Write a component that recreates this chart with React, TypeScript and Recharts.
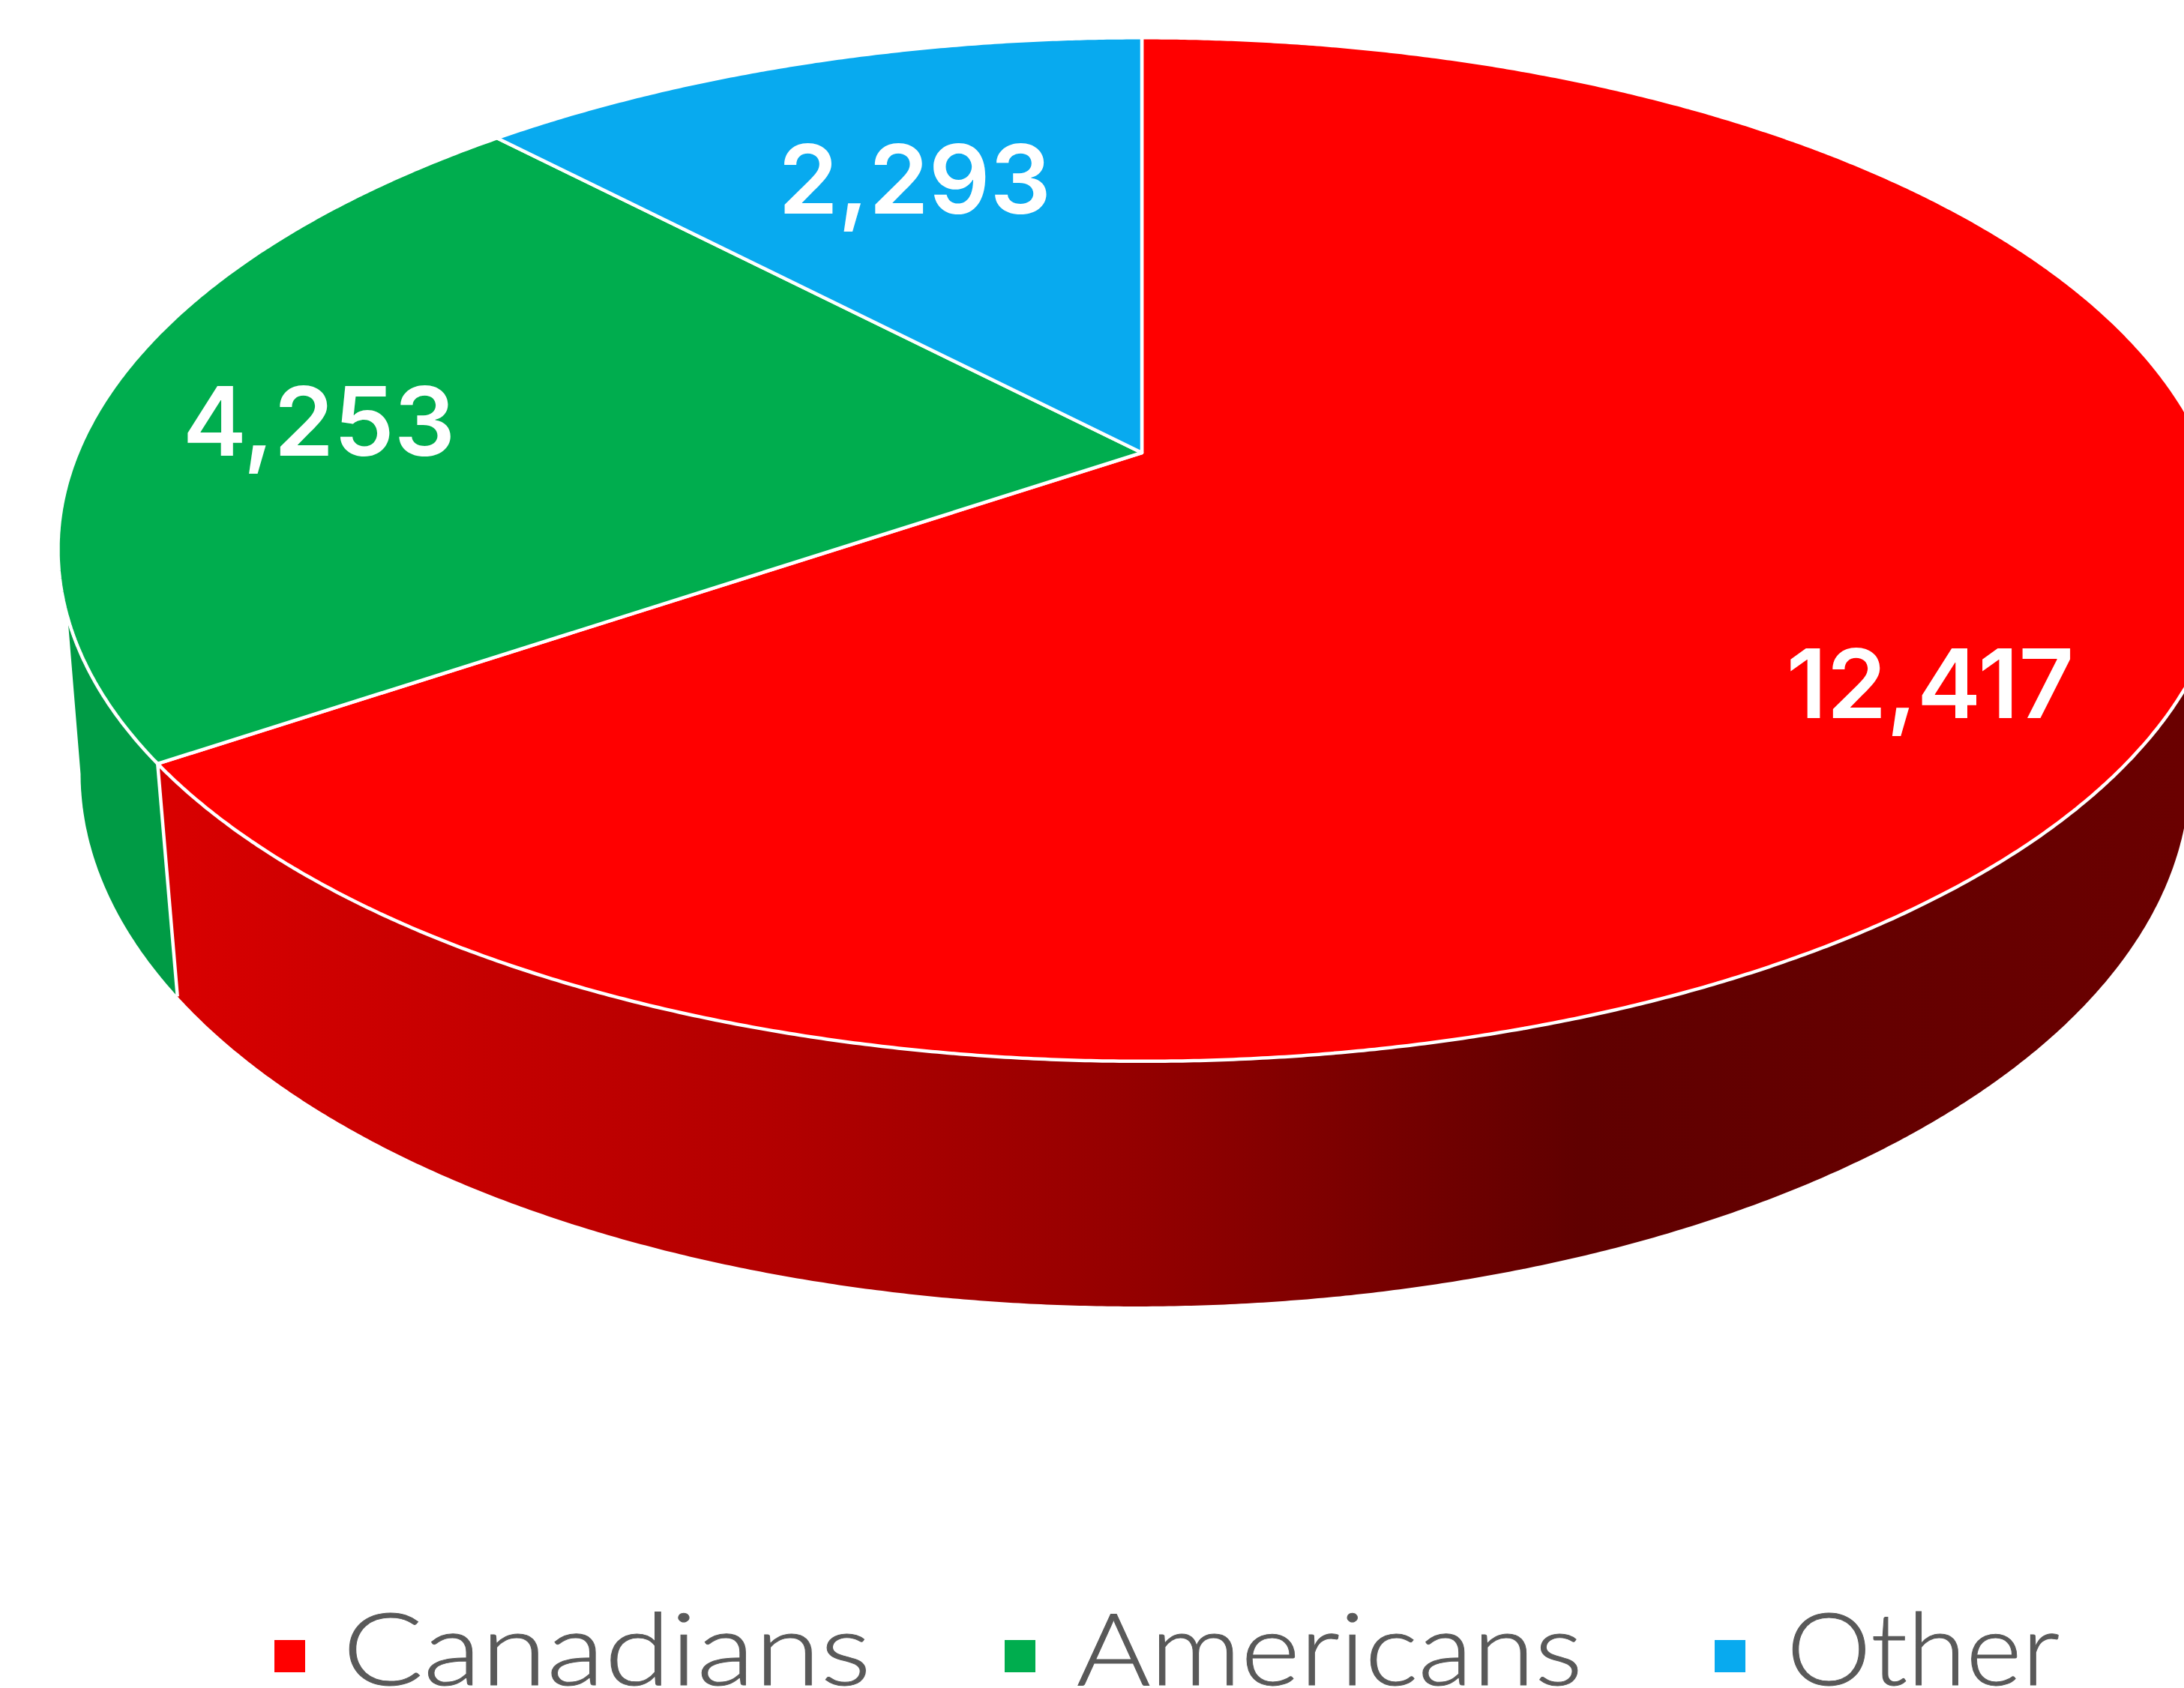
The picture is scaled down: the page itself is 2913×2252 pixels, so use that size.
// 3D風の円グラフ(Recharts の Pie を custom shape で透視投影して描く)
import { Legend, Pie, PieChart } from "recharts";

const CATEGORIES = ["Canadians", "Americans", "Other"];
const VALUES = [12417, 4253, 2293];
const COLORS = ["#ff0000", "#00ad4e", "#08aaef"];
const WALL_COLORS = ["url(#redWall)", "#009b45", "#0890c8"];

const W = 2913;
const H = 2252;
// 円盤の透視パラメータ(reference から実測)
const APEX_X = 1523;
const APEX_Y = 604;
const RX = 1419.5;
const RY = 658.4;
const K = 0.189;
// 底面の輪郭は上面をこの比率でずらしたもの
const WALL_SCALE_X = 0.973;
const WALL_SHIFT_X = -9;
const WALL_SCALE_Y = 1.042;
const WALL_DROP = 293;
// 手前に見える側面の範囲(時計回り、上が0度)
const WALL_FROM = 100;
const WALL_TO = 251.7;
const WALL_TO_BOTTOM = 259;

const LABEL_RADIUS = [0.78, 0.79, 0.64];
const LABEL_NUDGE = [50, 12, -14];
const LEGEND_SWATCH_X = [366, 1340, 2287];
const LEGEND_TEXT_X = [457, 1436, 2383];
const LEGEND_TEXT_W = [705, 675, 364];

const data = CATEGORIES.map((name, i) => ({
  name,
  value: VALUES[i],
  fill: COLORS[i],
}));

// 時計回りの角度(上が0)と半径比から画面座標へ
function project(deg: number, r = 1) {
  const a = (deg * Math.PI) / 180;
  const u = Math.sin(a) * r;
  const v = -Math.cos(a) * r;
  const d = 1 - K * v;
  return { x: (RX * u) / d, y: (RY * v) / d };
}

function topPoint(deg: number) {
  const p = project(deg);
  return [APEX_X + p.x, APEX_Y + p.y];
}

function bottomPoint(deg: number) {
  const p = project(deg);
  return [
    APEX_X + p.x * WALL_SCALE_X + WALL_SHIFT_X,
    APEX_Y + p.y * WALL_SCALE_Y + WALL_DROP,
  ];
}

function arcPoints(from: number, to: number, fn: (d: number) => number[]) {
  const pts: number[][] = [];
  const n = Math.max(2, Math.ceil((to - from) * 4));
  for (let i = 0; i <= n; i++) pts.push(fn(from + ((to - from) * i) / n));
  return pts;
}

const toPath = (pts: number[][]) =>
  pts.map((p, i) => `${i === 0 ? "M" : "L"}${p[0].toFixed(1)} ${p[1].toFixed(1)}`).join(" ");

function SliceShape(props: any) {
  const from = 90 - props.startAngle;
  const to = 90 - props.endAngle;
  const idx = CATEGORIES.indexOf(props.name ?? props.payload?.name);
  const wallFrom = Math.max(from, WALL_FROM);
  const wallTo = Math.min(to, WALL_TO);
  const wallToBottom = Math.min(to, WALL_TO_BOTTOM);
  const hasWall = wallTo > wallFrom;
  const wall = hasWall
    ? toPath([
        ...arcPoints(wallFrom, wallTo, topPoint),
        ...arcPoints(wallFrom, wallToBottom, bottomPoint).reverse(),
      ]) + " Z"
    : "";
  const face = `M${APEX_X} ${APEX_Y} ` + toPath(arcPoints(from, to, topPoint)).replace("M", "L") + " Z";
  const showEdge = from > WALL_FROM && from < WALL_TO;
  const edgeTop = topPoint(from);
  const edgeBottom = bottomPoint(from);
  return (
    <g>
      {hasWall && <path d={wall} fill={WALL_COLORS[idx]} stroke="none" />}
      {showEdge && (
        <line
          x1={edgeTop[0]}
          y1={edgeTop[1]}
          x2={edgeBottom[0]}
          y2={edgeBottom[1]}
          stroke="#fff"
          strokeWidth={4.5}
        />
      )}
      <path d={face} fill={props.fill} stroke="#fff" strokeWidth={4.5} strokeLinejoin="round" />
    </g>
  );
}

function SliceLabel(props: any) {
  const i = props.index;
  const p = project(90 - props.midAngle, LABEL_RADIUS[i]);
  return (
    <text
      x={APEX_X + p.x}
      y={APEX_Y + p.y + LABEL_NUDGE[i]}
      fill="#fff"
      fontFamily="Inter, sans-serif"
      fontWeight={600}
      fontSize={128}
      textAnchor="middle"
      dominantBaseline="central"
    >
      {Number(props.value).toLocaleString("en-US")}
    </text>
  );
}

function LegendContent({ payload }: any) {
  return (
    <svg width={W} height={152} style={{ display: "block" }}>
      {(payload ?? []).map((entry: any, i: number) => (
        <g key={entry.value}>
          <rect x={LEGEND_SWATCH_X[i]} y={88} width={41} height={43} fill={entry.color} />
          <text
            x={LEGEND_TEXT_X[i]}
            y={148}
            fill="#595959"
            stroke="#595959"
            strokeWidth={1}
            fontFamily="Lato, sans-serif"
            fontWeight={300}
            fontSize={134}
            textLength={LEGEND_TEXT_W[i]}
            lengthAdjust="spacingAndGlyphs"
          >
            {entry.value}
          </text>
        </g>
      ))}
    </svg>
  );
}

export default function App() {
  return (
    <div style={{ position: "absolute", left: 0, top: 0, width: W, height: H, overflow: "hidden", background: "#fff" }}>
      <PieChart width={W} height={H} margin={{ top: 0, right: 0, bottom: 0, left: 0 }}>
        <defs>
          <linearGradient id="redWall" gradientUnits="userSpaceOnUse" x1={230} y1={0} x2={2913} y2={0}>
            <stop offset="0" stopColor="#d80000" />
            <stop offset="0.29" stopColor="#b40000" />
            <stop offset="0.48" stopColor="#940000" />
            <stop offset="0.7" stopColor="#600000" />
            <stop offset="1" stopColor="#6a0000" />
          </linearGradient>
        </defs>
        <Pie
          data={data}
          dataKey="value"
          nameKey="name"
          cx={APEX_X}
          cy={APEX_Y}
          outerRadius={500}
          startAngle={90}
          endAngle={-270}
          shape={SliceShape}
          label={SliceLabel}
          labelLine={false}
          isAnimationActive={false}
        />
        <Legend
          content={LegendContent}
          itemSorter={null}
          wrapperStyle={{ left: 0, top: 2100, width: W, height: 152 }}
        />
      </PieChart>
    </div>
  );
}
